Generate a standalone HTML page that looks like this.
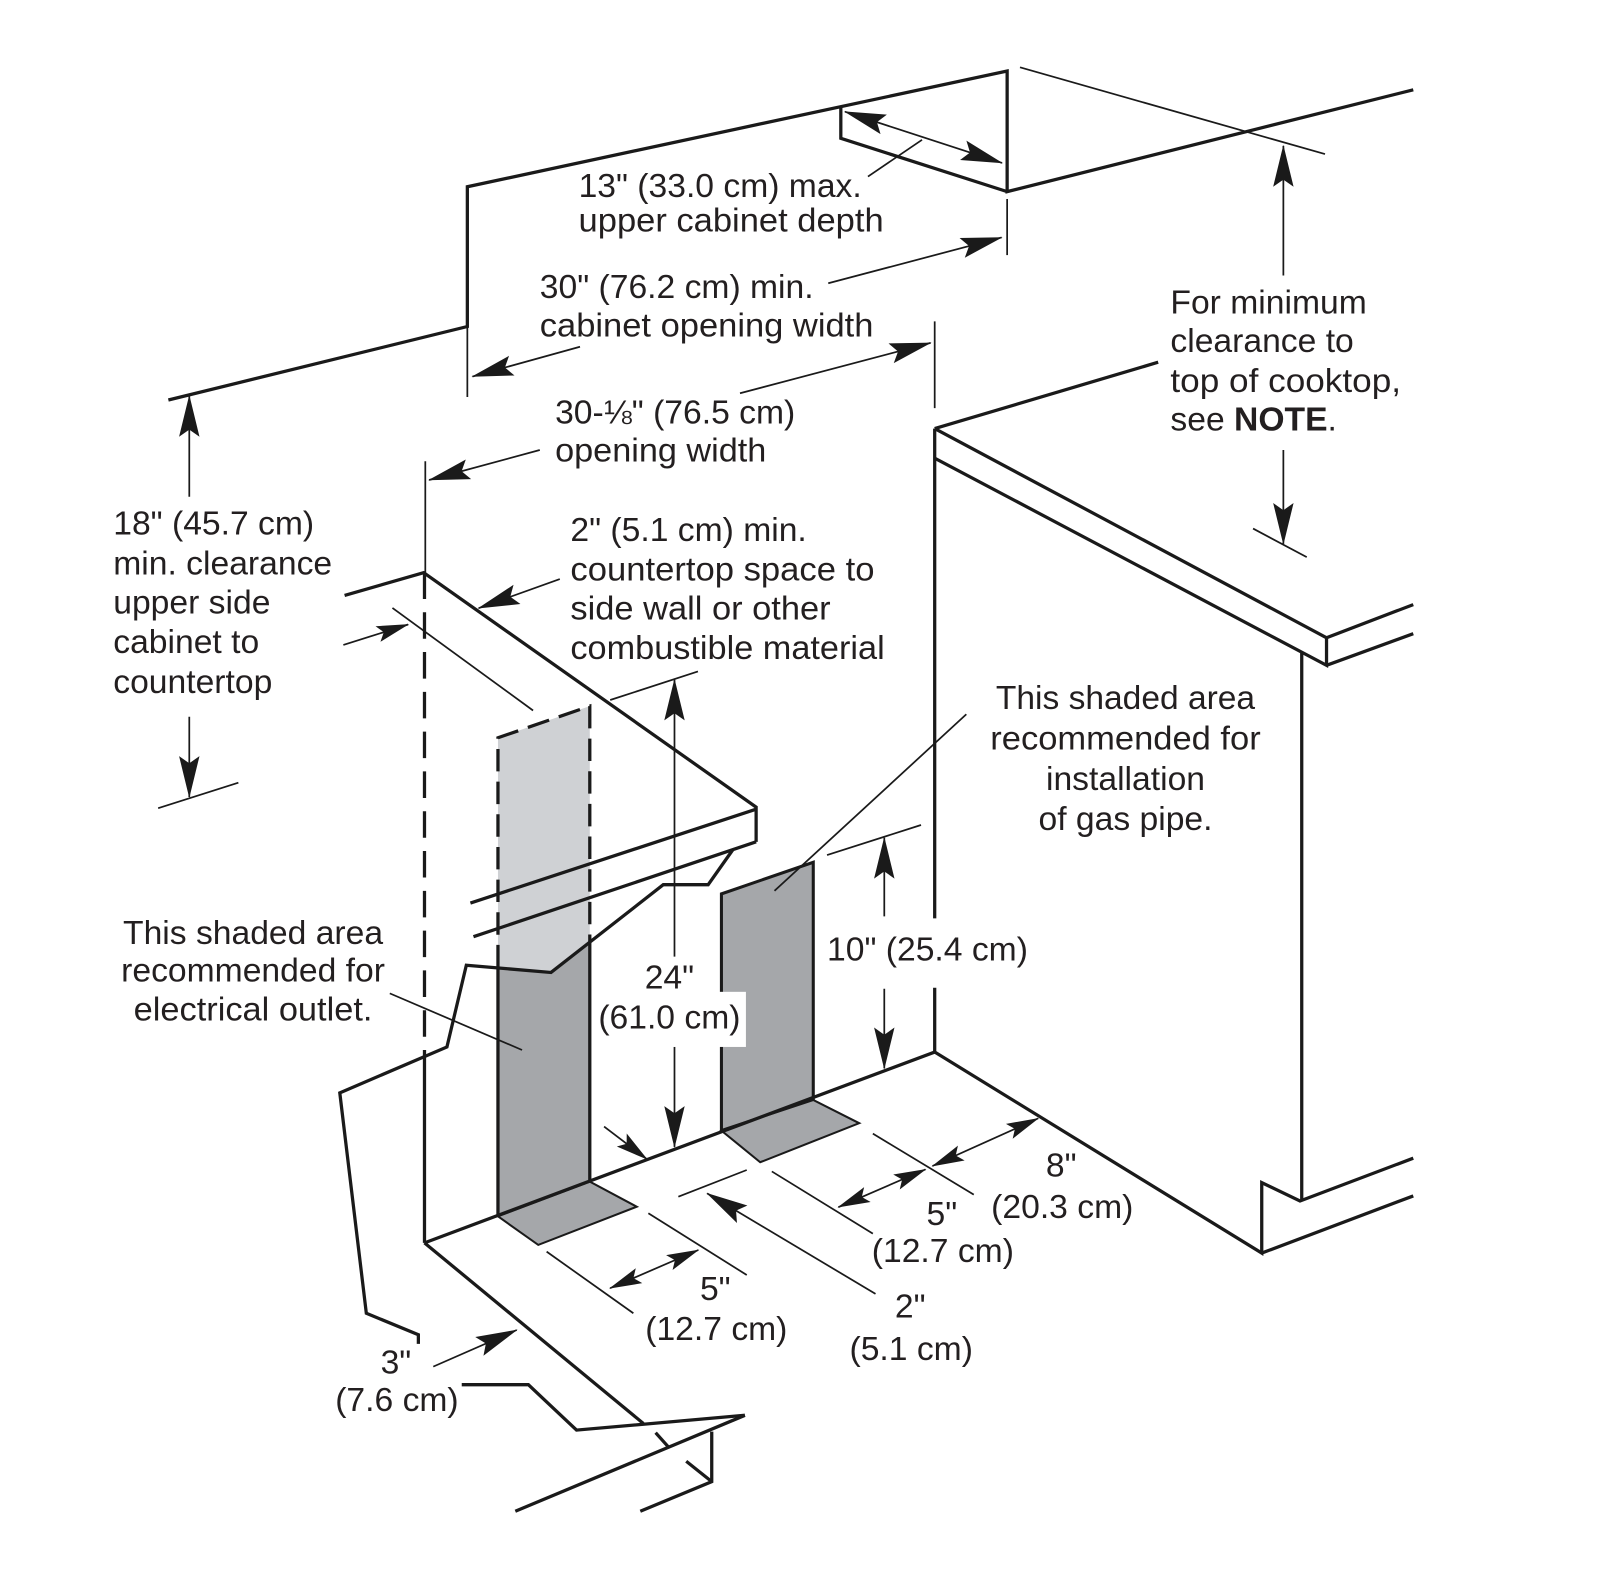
<!DOCTYPE html>
<html>
<head>
<meta charset="utf-8">
<style>
  html,body{margin:0;padding:0;background:#fff;}
  svg{display:block;}
  .o{stroke:#1a1a1a;stroke-width:3.2;fill:none;stroke-linejoin:miter;stroke-linecap:butt;}
  .t{stroke:#1a1a1a;stroke-width:1.7;fill:none;}
  text{font-family:"Liberation Sans",Arial,Helvetica,sans-serif;font-size:33px;fill:#231f20;}
  .m{text-anchor:middle;}
</style>
</head>
<body>
<svg width="1600" height="1570" viewBox="0 0 1568 1538.6" xmlns="http://www.w3.org/2000/svg">
  <defs>
    <marker id="ah" viewBox="-42 -12 44 24" refX="0" refY="0" markerWidth="44" markerHeight="24" markerUnits="userSpaceOnUse" orient="auto-start-reverse">
      <path d="M1,0 L-40,-10 L-33,0 L-40,10 Z" fill="#1a1a1a"/>
    </marker>
    <marker id="as" viewBox="-34 -10 36 20" refX="0" refY="0" markerWidth="36" markerHeight="20" markerUnits="userSpaceOnUse" orient="auto-start-reverse">
      <path d="M1,0 L-31,-8 L-25,0 L-31,8 Z" fill="#1a1a1a"/>
    </marker>
  </defs>

  <!-- ===== shaded fills ===== -->
  <polygon points="488,723 578,692 578,923 540,953 488,948.6" fill="#cfd1d4"/>
  <polygon points="488,948.6 540,953 578,923 578,1158 488,1192" fill="#a5a7aa"/>
  <polygon points="488,1192 578,1158 624,1182.6 527.5,1220" fill="#a5a7aa" stroke="#1a1a1a" stroke-width="2"/>
  <polygon points="707,876 797,845 797,1078 707,1108" fill="#a5a7aa" stroke="#1a1a1a" stroke-width="3"/>
  <polygon points="707,1108 797,1078 842,1100.7 745,1139" fill="#a5a7aa" stroke="#1a1a1a" stroke-width="2"/>

  <!-- electrical outlet outlines -->
  <line class="o" x1="488" y1="948" x2="488" y2="1192"/>
  <line class="o" x1="578" y1="923" x2="578" y2="1158"/>
  <polyline class="o" points="488,948 488,723 578,692 578,923" stroke-dasharray="22 10"/>

  <!-- ===== upper cabinets ===== -->
  <polyline class="o" points="165,392 458,320 458,183 987,69.6 987,187.8 1385,88"/>
  <polyline class="o" points="824,104.5 824,135.5 987,187.8"/>
  <line class="t" x1="999.6" y1="66" x2="1298.5" y2="151"/>

  <!-- 13" depth arrow -->
  <line class="t" x1="828" y1="109.5" x2="982" y2="159.7" marker-start="url(#ah)" marker-end="url(#ah)"/>
  <line class="t" x1="850.6" y1="173" x2="903.6" y2="137"/>

  <!-- 30" min cabinet opening -->
  <line class="t" x1="987" y1="195" x2="987" y2="250"/>
  <line class="t" x1="811.7" y1="277.6" x2="981.6" y2="232.7" marker-end="url(#ah)"/>
  <line class="t" x1="458" y1="320" x2="458" y2="389"/>
  <line class="t" x1="568.4" y1="339.8" x2="463" y2="369" marker-end="url(#ah)"/>

  <!-- 30-1/8 opening width -->
  <line class="t" x1="916" y1="315" x2="916" y2="400"/>
  <line class="t" x1="725.2" y1="385.4" x2="912" y2="336" marker-end="url(#ah)"/>
  <line class="t" x1="416.8" y1="452" x2="416.8" y2="561"/>
  <line class="t" x1="529" y1="441" x2="420.5" y2="470.4" marker-end="url(#ah)"/>

  <!-- 18" clearance -->
  <line class="t" x1="185.5" y1="486.8" x2="185.5" y2="388" marker-end="url(#ah)"/>
  <line class="t" x1="185.5" y1="702.4" x2="185.5" y2="781" marker-end="url(#ah)"/>
  <line class="t" x1="155" y1="792" x2="233.6" y2="767"/>

  <!-- ===== left countertop / side wall ===== -->
  <polyline class="o" points="337.7,583.5 415.2,561.2 741,791 741,825"/>
  <line class="o" x1="741" y1="793" x2="461" y2="885"/>
  <line class="o" x1="741" y1="825" x2="464" y2="918"/>
  <polyline class="o" points="718,833 694,867 650,867 540,953 457,946 438,1026 333,1071 359,1287 410,1308 410,1317"/>
  <line class="o" x1="416" y1="561" x2="416" y2="1017" stroke-dasharray="26 13"/>
  <line class="o" x1="416" y1="1029" x2="416" y2="1218"/>

  <line class="t" x1="384.6" y1="595.8" x2="522.4" y2="696.3"/>
  <line class="t" x1="336.5" y1="632" x2="400" y2="612" marker-end="url(#as)"/>
  <line class="t" x1="548.6" y1="567.5" x2="469" y2="596" marker-end="url(#ah)"/>

  <!-- 24" -->
  <line class="t" x1="598" y1="686" x2="684" y2="658"/>
  <line class="t" x1="661" y1="937.5" x2="661" y2="666" marker-end="url(#ah)"/>
  <line class="t" x1="661" y1="1025.8" x2="661" y2="1124" marker-end="url(#ah)"/>
  <line class="t" x1="592" y1="1104" x2="634" y2="1136" marker-end="url(#as)"/>

  <!-- back wall base -->
  <line class="o" x1="416" y1="1218" x2="916" y2="1031"/>

  <!-- ===== right base cabinet ===== -->
  <line class="o" x1="916" y1="420" x2="916" y2="1031"/>
  <line class="o" x1="916" y1="420" x2="1135" y2="355"/>
  <polyline class="o" points="916,420 1300,625 1300,652 916,449"/>
  <line class="o" x1="1300" y1="625" x2="1385" y2="592.5"/>
  <line class="o" x1="1300" y1="652" x2="1385" y2="621"/>
  <line class="o" x1="1275.7" y1="639" x2="1275.7" y2="1177"/>
  <polyline class="o" points="916,1031 1236.5,1228 1236.5,1159 1274,1177 1385,1135"/>
  <line class="o" x1="1236.5" y1="1228" x2="1385" y2="1172"/>

  <!-- For minimum clearance arrow -->
  <line class="t" x1="1257.7" y1="270" x2="1257.7" y2="143" marker-end="url(#ah)"/>
  <line class="t" x1="1257.7" y1="441" x2="1257.7" y2="533" marker-end="url(#ah)"/>
  <line class="t" x1="1228" y1="518" x2="1280.6" y2="546"/>

  <!-- 10" -->
  <line class="t" x1="810.5" y1="838" x2="902.6" y2="808.5"/>
  <line class="t" x1="866.6" y1="898" x2="866.6" y2="821" marker-end="url(#ah)"/>
  <line class="t" x1="866.6" y1="969" x2="866.6" y2="1047" marker-end="url(#ah)"/>

  <!-- gas leader -->
  <line class="t" x1="947" y1="700" x2="759" y2="873"/>
  <!-- electrical leader -->
  <line class="t" x1="382" y1="973.5" x2="511.6" y2="1029"/>

  <!-- ===== floor dimensions ===== -->
  <line class="t" x1="535.7" y1="1226.6" x2="620.7" y2="1287"/>
  <line class="t" x1="635.4" y1="1189" x2="731.8" y2="1249.5"/>
  <line class="t" x1="597.8" y1="1262.5" x2="684.4" y2="1225" marker-start="url(#as)" marker-end="url(#as)"/>
  <line class="t" x1="664.8" y1="1172.8" x2="731.8" y2="1146.6"/>
  <line class="t" x1="858" y1="1268" x2="693" y2="1169.5" marker-end="url(#ah)"/>
  <line class="t" x1="756.4" y1="1148" x2="855.4" y2="1209"/>
  <line class="t" x1="855.4" y1="1111" x2="954.3" y2="1170.7"/>
  <line class="t" x1="821.6" y1="1183" x2="907" y2="1146" marker-start="url(#as)" marker-end="url(#as)"/>
  <line class="t" x1="913.8" y1="1142.7" x2="1017.4" y2="1096" marker-start="url(#as)" marker-end="url(#as)"/>

  <!-- ===== left cabinet bottom ===== -->
  <line class="o" x1="416" y1="1218" x2="630.5" y2="1395"/>
  <polyline class="o" points="452.5,1357 517.8,1357 565,1401.5 730,1387"/>
  <line class="o" x1="730" y1="1387" x2="505" y2="1481"/>
  <polyline class="o" points="697.5,1403 697.5,1452 627.5,1481"/>
  <line class="o" x1="642.5" y1="1404" x2="655" y2="1418"/>
  <line class="o" x1="672.5" y1="1432" x2="697.5" y2="1452"/>
  <line class="t" x1="424.6" y1="1339.3" x2="506.4" y2="1303.4" marker-end="url(#ah)"/>

  <!-- white label backgrounds -->
  <rect x="583" y="972" width="148" height="54" fill="#fff"/>
  <rect x="806" y="900" width="204" height="68" fill="#fff"/>

  <!-- ===== text ===== -->
  <text x="567" y="193">13" (33.0 cm) max.</text>
  <text x="567" y="227" textLength="299" lengthAdjust="spacingAndGlyphs">upper cabinet depth</text>
  <text x="529" y="292">30" (76.2 cm) min.</text>
  <text x="529" y="330" textLength="327" lengthAdjust="spacingAndGlyphs">cabinet opening width</text>
  <text x="544" y="415">30-⅛" (76.5 cm)</text>
  <text x="544" y="452.5" textLength="207" lengthAdjust="spacingAndGlyphs">opening width</text>

  <text x="111" y="524">18" (45.7 cm)</text>
  <text x="111" y="563">min. clearance</text>
  <text x="111" y="601">upper side</text>
  <text x="111" y="640">cabinet to</text>
  <text x="111" y="679">countertop</text>

  <text x="559" y="530">2" (5.1 cm) min.</text>
  <text x="559" y="569" textLength="298" lengthAdjust="spacingAndGlyphs">countertop space to</text>
  <text x="559" y="607" textLength="255" lengthAdjust="spacingAndGlyphs">side wall or other</text>
  <text x="559" y="646" textLength="308" lengthAdjust="spacingAndGlyphs">combustible material</text>

  <text x="1147" y="307">For minimum</text>
  <text x="1147" y="345">clearance to</text>
  <text x="1147" y="384" textLength="226" lengthAdjust="spacingAndGlyphs">top of cooktop,</text>
  <text x="1147" y="422">see <tspan font-weight="bold">NOTE</tspan>.</text>

  <text class="m" x="1103" y="695" textLength="254" lengthAdjust="spacingAndGlyphs">This shaded area</text>
  <text class="m" x="1103" y="734.5" textLength="265" lengthAdjust="spacingAndGlyphs">recommended for</text>
  <text class="m" x="1103" y="774">installation</text>
  <text class="m" x="1103" y="813.5">of gas pipe.</text>

  <text class="m" x="248" y="925">This shaded area</text>
  <text class="m" x="248" y="962">recommended for</text>
  <text class="m" x="248" y="1000" textLength="234" lengthAdjust="spacingAndGlyphs">electrical outlet.</text>

  <text class="m" x="656" y="968.6">24"</text>
  <text class="m" x="656" y="1008">(61.0 cm)</text>

  <text x="810.5" y="941.5">10" (25.4 cm)</text>

  <text class="m" x="1040" y="1153">8"</text>
  <text class="m" x="1041" y="1193.5">(20.3 cm)</text>

  <text class="m" x="923" y="1200.5">5"</text>
  <text class="m" x="924" y="1237">(12.7 cm)</text>

  <text class="m" x="892" y="1291">2"</text>
  <text class="m" x="893" y="1333">(5.1 cm)</text>

  <text class="m" x="701" y="1274">5"</text>
  <text class="m" x="702" y="1313">(12.7 cm)</text>

  <text class="m" x="388" y="1346">3"</text>
  <text class="m" x="389" y="1383">(7.6 cm)</text>
</svg>
</body>
</html>
